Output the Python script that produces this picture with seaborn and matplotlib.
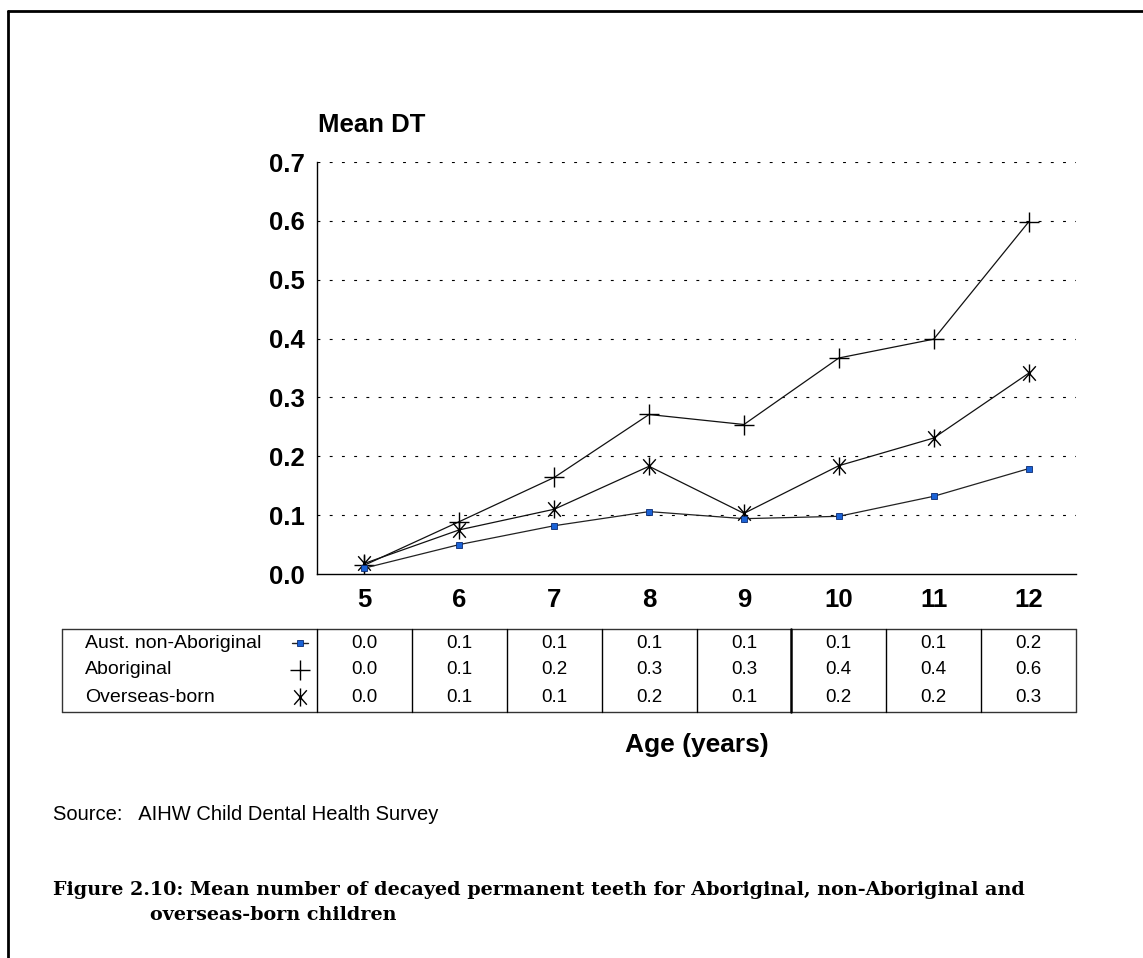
import numpy as np
import pandas as pd
import matplotlib
matplotlib.use("Agg")
import matplotlib.pyplot as plt
import matplotlib.transforms as mtransforms
from matplotlib.lines import Line2D
from matplotlib.path import Path
import seaborn as sns

# ---------------- data ----------------
ages = [5, 6, 7, 8, 9, 10, 11, 12]
non_aboriginal = [0.010, 0.050, 0.082, 0.106, 0.094, 0.098, 0.132, 0.179]
aboriginal = [0.015, 0.089, 0.164, 0.271, 0.254, 0.367, 0.399, 0.598]
overseas = [0.018, 0.075, 0.110, 0.183, 0.103, 0.184, 0.231, 0.341]

series_names = ["Aust. non-Aboriginal", "Aboriginal", "Overseas-born"]
table_non_aboriginal = ["0.0", "0.1", "0.1", "0.1", "0.1", "0.1", "0.1", "0.2"]
table_aboriginal = ["0.0", "0.1", "0.2", "0.3", "0.3", "0.4", "0.4", "0.6"]
table_overseas = ["0.0", "0.1", "0.1", "0.2", "0.1", "0.2", "0.2", "0.3"]
y_ticks = [0.0, 0.1, 0.2, 0.3, 0.4, 0.5, 0.6, 0.7]

y_title = "Mean DT"
x_title = "Age (years)"
source_text = "Source:   AIHW Child Dental Health Survey"
caption_1 = "Figure 2.10: Mean number of decayed permanent teeth for Aboriginal, non-Aboriginal and"
caption_2 = "overseas-born children"

# ---------------- style ----------------
sns.set_theme(style="white")
plt.rcParams["font.family"] = ["Liberation Sans", "DejaVu Sans"]
plt.rcParams["text.color"] = "black"
plt.rcParams["xtick.color"] = "black"
plt.rcParams["ytick.color"] = "black"

W_PX, H_PX = 1143, 958
fig = plt.figure(figsize=(W_PX / 100, H_PX / 100), dpi=100)
fig.patch.set_facecolor("white")

def fx(px):
    return px / W_PX

def fy(py):
    return 1 - py / H_PX

ax_l, ax_r, ax_t, ax_b = 317, 1076, 162, 574
ax = fig.add_axes([fx(ax_l), fy(ax_b), fx(ax_r) - fx(ax_l), fy(ax_t) - fy(ax_b)])
ax.set_facecolor("white")

# asterisk marker: X plus vertical bar
ast_verts = [(0, -1), (0, 1), (-0.7, -0.8), (0.7, 0.8), (-0.7, 0.8), (0.7, -0.8)]
ast_codes = [Path.MOVETO, Path.LINETO] * 3
asterisk = Path(ast_verts, ast_codes)

df = pd.DataFrame({"age": ages, "non": non_aboriginal, "abo": aboriginal, "ovs": overseas})

sns.lineplot(data=df, x="age", y="abo", ax=ax, color="#111111", lw=0.9,
             marker="+", markersize=14, markeredgewidth=1.0, markeredgecolor="#000000")
sns.lineplot(data=df, x="age", y="ovs", ax=ax, color="#111111", lw=0.9,
             marker=asterisk, markersize=13, markeredgewidth=1.0, markeredgecolor="#000000",
             markerfacecolor="none")
sns.lineplot(data=df, x="age", y="non", ax=ax, color="#222222", lw=0.9,
             marker="s", markersize=4.5, markerfacecolor="#1a62d6", markeredgecolor="#0a2a70",
             markeredgewidth=0.6)

ax.set_xlim(4.5, 12.5)
ax.set_ylim(0, 0.7)
ax.set_yticks(y_ticks)
ax.set_yticklabels([f"{v:.1f}" for v in y_ticks], fontsize=18.5, fontweight="bold")
ax.set_xticks(ages)
ax.set_xticklabels([str(a) for a in ages], fontsize=18.5, fontweight="bold")
ax.tick_params(axis="y", length=0, pad=9)
ax.tick_params(axis="x", length=0, pad=10)
ax.set_xlabel("")
ax.set_ylabel("")
for y in y_ticks[1:]:
    ax.axhline(y, color="black", lw=0.8, linestyle=(0, (2.6, 8.4)), zorder=0)
ax.grid(False)
for s in ["top", "right"]:
    ax.spines[s].set_visible(False)
for s in ["left", "bottom"]:
    ax.spines[s].set_color("black")
    ax.spines[s].set_linewidth(1.0)

# y title above axis
fig.text(fx(318), fy(125), y_title, fontsize=18.5, fontweight="bold", ha="left", va="center")

# ---------------- data table ----------------
blend = mtransforms.blended_transform_factory(ax.transData, fig.transFigure)
tab_l, tab_r, tab_t, tab_b = 62, 1076, 629, 712
edge = "#333333"
fig.add_artist(Line2D([fx(tab_l), fx(tab_r)], [fy(tab_t)] * 2, color=edge, lw=1.0, transform=fig.transFigure))
fig.add_artist(Line2D([fx(tab_l), fx(tab_r)], [fy(tab_b)] * 2, color=edge, lw=1.0, transform=fig.transFigure))
fig.add_artist(Line2D([fx(tab_l)] * 2, [fy(tab_t), fy(tab_b)], color=edge, lw=1.0, transform=fig.transFigure))
for i, a in enumerate(ages):
    lw = 1.8 if a == 10 else 1.0
    fig.add_artist(Line2D([a - 0.5] * 2, [fy(tab_t), fy(tab_b)], color="black", lw=lw, transform=blend))
fig.add_artist(Line2D([ages[-1] + 0.5] * 2, [fy(tab_t), fy(tab_b)], color=edge, lw=1.0, transform=blend))

row_y = [643, 670, 697]
rows = [table_non_aboriginal, table_aboriginal, table_overseas]
for ry, name, vals in zip(row_y, series_names, rows):
    fig.text(fx(85), fy(ry), name, fontsize=14, ha="left", va="center")
    for a, v in zip(ages, vals):
        ax.text(a, fy(ry), v, transform=blend, fontsize=13.5, ha="center", va="center")

# legend keys in the table
mk_x = 300
fig.add_artist(Line2D([fx(mk_x - 8), fx(mk_x + 8)], [fy(row_y[0])] * 2, color="#222222", lw=1.0,
                      transform=fig.transFigure))
fig.add_artist(Line2D([fx(mk_x)], [fy(row_y[0])], marker="s", markersize=4.5, markerfacecolor="#1a62d6",
                      markeredgecolor="#0a2a70", markeredgewidth=0.6, lw=0, transform=fig.transFigure))
fig.add_artist(Line2D([fx(mk_x)], [fy(row_y[1])], marker="+", markersize=14, markeredgewidth=1.0,
                      color="black", lw=0, transform=fig.transFigure))
fig.add_artist(Line2D([fx(mk_x)], [fy(row_y[2])], marker=asterisk, markersize=13, markeredgewidth=1.0,
                      color="black", markerfacecolor="none", lw=0, transform=fig.transFigure))

# x title
fig.text(fx(697), fy(745), x_title, fontsize=19, fontweight="bold", ha="center", va="center")

# source and caption
fig.text(fx(53), fy(815), source_text, fontsize=14.5, ha="left", va="center")
fig.text(fx(53), fy(890), caption_1, fontsize=13.8, fontweight="bold", ha="left", va="center",
         family=["DejaVu Serif"])
fig.text(fx(150), fy(915), caption_2, fontsize=13.8, fontweight="bold", ha="left", va="center",
         family=["DejaVu Serif"])

# page frame (top and left edges)
fig.add_artist(Line2D([fx(8), 1.0], [fy(11)] * 2, color="black", lw=2.0, transform=fig.transFigure))
fig.add_artist(Line2D([fx(8)] * 2, [fy(11), 0.0], color="black", lw=2.0, transform=fig.transFigure))

fig.savefig("out.png", dpi=100, facecolor="white")
